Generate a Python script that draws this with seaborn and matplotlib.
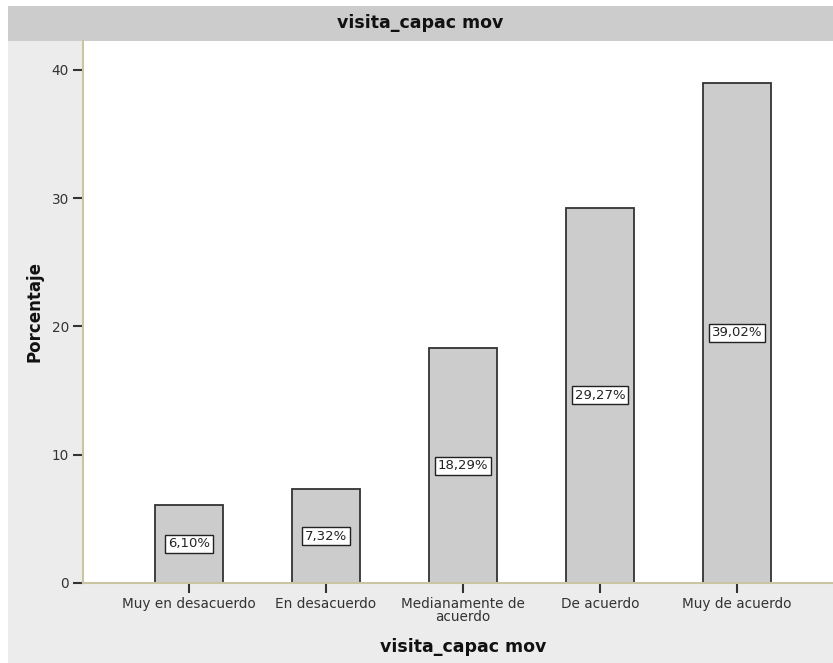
import matplotlib
matplotlib.use("Agg")
import matplotlib.pyplot as plt
from matplotlib.patches import Rectangle
import pandas as pd
import seaborn as sns

# Frequency table for the "visita_capac mov" item
categories = ["Muy en desacuerdo", "En desacuerdo", "Medianamente de\nacuerdo",
              "De acuerdo", "Muy de acuerdo"]
percentages = [6.10, 7.32, 18.29, 29.27, 39.02]
y_ticks = [0, 10, 20, 30, 40]

df = pd.DataFrame({"categoria": categories, "porcentaje": percentages})

sns.set_theme(style="white")
plt.rcParams["font.family"] = ["DejaVu Sans"]

W, H = 833, 663
fig = plt.figure(figsize=(W / 100, H / 100), dpi=100, facecolor="white")

# panel background and title band
fig.patches.append(Rectangle((8 / W, 0), 1 - 8 / W, 1 - 41 / H, transform=fig.transFigure,
                             facecolor="#ececec", edgecolor="none", zorder=-10))
fig.patches.append(Rectangle((8 / W, 1 - 41 / H), 1 - 8 / W, 35 / H, transform=fig.transFigure,
                             facecolor="#cccccc", edgecolor="none", zorder=-10))
fig.text((8 + W) / 2 / W, 1 - 23 / H, "visita_capac mov", ha="center", va="center",
         fontsize=12.5, fontweight="bold", color="#111111")

ax = fig.add_axes([83 / W, (H - 583) / H, (W - 83) / W, (583 - 41) / H])
ax.set_zorder(1)
ax.set_facecolor("white")

sns.barplot(data=df, x="categoria", y="porcentaje", ax=ax, color="#cccccc",
            edgecolor="#333333", linewidth=1.3, width=0.5, saturation=1)

for i, v in enumerate(percentages):
    ax.text(i, v / 2, f"{v:.2f}".replace(".", ",") + "%", ha="center", va="center",
            fontsize=9.5, color="#222222",
            bbox=dict(boxstyle="square,pad=0.2", facecolor="white", edgecolor="#222222",
                      linewidth=1))

ax.set_xlim(-0.774, 4.70)
ax.set_ylim(0, 42.26)
ax.set_yticks(y_ticks)
ax.set_yticklabels([str(t) for t in y_ticks])

for side in ("top", "right"):
    ax.spines[side].set_visible(False)
for side in ("left", "bottom"):
    ax.spines[side].set_color("#c9c5a3")
    ax.spines[side].set_linewidth(1.5)

ax.tick_params(axis="both", which="both", direction="out", length=7, width=1.5,
               color="#333333", labelcolor="#333333", labelsize=9.8, pad=3,
               left=True, bottom=True)
for lbl in ax.get_xticklabels():
    lbl.set_linespacing(0.95)
ax.set_xlabel("")
ax.set_ylabel("Porcentaje", fontsize=12, fontweight="bold", color="#111111", labelpad=6)

fig.text(463 / W, 1 - 647 / H, "visita_capac mov", ha="center", va="center",
         fontsize=12.5, fontweight="bold", color="#111111")

fig.savefig("out.png", dpi=100, facecolor=fig.get_facecolor())
